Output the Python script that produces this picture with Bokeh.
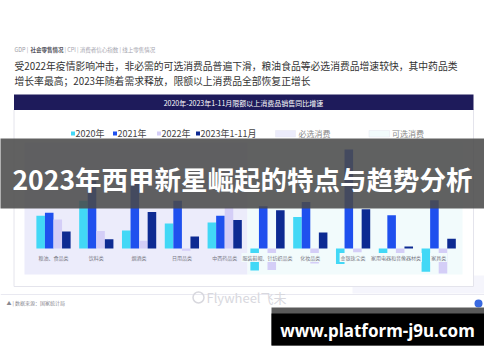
from bokeh.plotting import figure
from bokeh.models import Range1d, ColumnDataSource
from bokeh.transform import dodge
from bokeh.core.properties import value
from bokeh.embed import file_html
from bokeh.resources import INLINE

# ---------------- data ----------------
categories = ["粮油、食品类", "饮料类", "烟酒类", "日用品类", "中西药品类",
              "服装鞋帽、针纺织品类", "化妆品类", "金银珠宝类", "家用电器和音像器材类", "家具类"]
group_kind = ["必选消费"] * 5 + ["可选消费"] * 5
series_names = ["2020年", "2021年", "2022年", "2023年1-11月"]
y2020 = [9.9, 14.4, 5.4, 7.5, 7.8, -6.6, 9.5, -4.7, -3.8, -7.0]
y2021 = [10.8, 20.4, 20.2, 14.4, 9.9, 12.7, 14.0, 29.8, 10.0, 14.5]
y2022 = [8.7, 5.3, 2.3, -0.7, 12.4, -6.5, -4.5, -1.1, -3.2, -7.5]
y2023 = [5.1, 2.8, 11.0, 3.6, 8.6, 11.5, 4.8, 11.8, 0.6, 2.9]
kind_names = ["必选消费", "可选消费"]

title_big = "2023年西甲新星崛起的特点与趋势分析"
chart_title = "2020年-2023年1-11月限额以上消费品销售同比增速"
headline1 = "受2022年疫情影响冲击，非必需的可选消费品普遍下滑，粮油食品等必选消费品增速较快，其中药品类"
headline2 = "增长率最高；2023年随着需求释放，限额以上消费品全部恢复正增长"
source_txt = "▲ | 数据来源：国家统计局"
url_txt = "www.platform-j9u.com"

# ---------------- style / layout ----------------
CJK = value("Noto Sans CJK SC")
series_colors = ["#42d8f6", "#1f50ee", "#d4cef7", "#0d2a92"]
kind_colors = ["#ececfb", "#f2fbfc"]
W, H = 484, 346
X0, Y0 = 8, 8                      # page margin
ZERO_Y = 256.0                     # pixel row of the zero line
PX_PER_PCT = 3.32
GROUP0_X = 61.0
GROUP_STEP = 42.8

p = figure(width=W, height=H, x_range=Range1d(X0, X0 + W), y_range=Range1d(Y0 + H, Y0),
           output_backend="svg", toolbar_location=None, min_border=0,
           x_axis_location=None, y_axis_location=None,
           background_fill_color="white", border_fill_color="white", outline_line_color=None)
p.grid.visible = False

p.extra_x_ranges = {"cat": Range1d((X0 - GROUP0_X) / GROUP_STEP, (X0 + W - GROUP0_X) / GROUP_STEP)}
p.extra_y_ranges = {"val": Range1d((ZERO_Y - (Y0 + H)) / PX_PER_PCT, (ZERO_Y - Y0) / PX_PER_PCT)}

# page decorations
p.quad(left=[8], right=[492], top=[301.5], bottom=[302.5], fill_color="#e9e9f1", line_color=None)
p.quad(left=[360], right=[492], top=[283], bottom=[301], fill_color="#eeeefa", fill_alpha=0.6, line_color=None)
p.quad(left=[21.5], right=[481], top=[117], bottom=[294], fill_color="white", line_color="#e4e4ec", line_width=1)
p.quad(left=[21.5], right=[481], top=[102], bottom=[117.5], fill_color="#1e1b5b", line_color=None)
p.text(x=[251], y=[110], text=[chart_title], text_font=CJK, text_font_size="7px",
       text_color="white", text_align="center", text_baseline="middle")

# breadcrumb + headline
p.text(x=[22], y=[57], text=["GDP | "], text_font=CJK, text_font_size="5.5px",
       text_color="#9a9aa4", text_baseline="middle")
p.text(x=[38], y=[57], text=["社会零售情况"], text_font=CJK, text_font_size="5.5px",
       text_color="#555560", text_font_style="bold", text_baseline="middle")
p.text(x=[72], y=[57], text=[" | CPI | 消费者信心指数 | 线上零售情况"], text_font=CJK,
       text_font_size="5.5px", text_color="#a4a4ae", text_baseline="middle")
p.text(x=[22, 22], y=[73, 88], text=[headline1, headline2], text_font=CJK,
       text_font_size="9.8px", text_color="#333333", text_baseline="middle")

# shaded kind regions
p.quad(left=[32, 255], right=[255, 470], top=[150, 150], bottom=[282, 282],
       fill_color=kind_colors, line_color=None)

# legend
leg_sq_x = [80.5, 122.5, 166.5, 205.5]
p.scatter(x=leg_sq_x, y=[141] * 4, marker="square", size=4, fill_color=series_colors, line_color=None)
p.text(x=[x + 2.5 for x in leg_sq_x], y=[141] * 4, text=series_names, text_font=CJK,
       text_font_size="9px", text_color="#444444", text_baseline="middle")
p.quad(left=[283, 376.5], right=[303, 397], top=[138, 138], bottom=[144.5, 144.5],
       fill_color=kind_colors, line_color="#e6e6f0", line_width=0.5)
p.text(x=[306, 399.5], y=[141, 141], text=kind_names, text_font=CJK,
       text_font_size="8px", text_color="#888888", text_baseline="middle")

# bars
src = ColumnDataSource(dict(idx=list(range(len(categories))), cat=categories,
                            bg=[kind_colors[0] if k == "必选消费" else kind_colors[1] for k in group_kind],
                            s0=y2020, s1=y2021, s2=y2022, s3=y2023))
offsets = [-0.3, -0.1, 0.1, 0.3]
for k, col in enumerate(["s0", "s1", "s2", "s3"]):
    p.vbar(x=dodge("idx", offsets[k]), top=col, bottom=0, width=0.2, source=src,
           fill_color=series_colors[k], line_color=None, x_range_name="cat", y_range_name="val")

p.text(x="idx", y=0, text="cat", source=src, x_range_name="cat", y_range_name="val",
       y_offset=9, text_align="center", text_baseline="middle", text_font=CJK,
       text_font_size="5px", text_color="#7a7a86", background_fill_color="bg", padding=1)

# footer
p.text(x=[14], y=[310], text=[source_txt], text_font=CJK, text_font_size="5px",
       text_color="#888890", text_baseline="middle")
p.text(x=[214], y=[305], text=["Flywheel飞未"], text_font=CJK, text_font_size="13px",
       text_color="#d8d8de", text_baseline="middle")
p.scatter(x=[206], y=[305], marker="circle", size=11, fill_color=None, line_color="#d8d8de", line_width=1.5)
p.scatter(x=[486], y=[311], marker="circle", size=8, fill_color="#3a6ae0", line_color=None)

# overlay banner
p.quad(left=[6], right=[494], top=[146], bottom=[216], fill_color="#4a4a4a", fill_alpha=0.87, line_color=None)
p.text(x=[250], y=[186], text=[title_big], text_font=CJK, text_font_size="26.5px",
       text_font_style="bold", text_color="white", text_align="center", text_baseline="middle")

# url box
p.quad(left=[279], right=[492], top=[315], bottom=[353], fill_color="#5a5a5a", line_color=None)
p.quad(left=[279], right=[492], top=[321], bottom=[353], fill_color="black", line_color=None)
p.text(x=[385], y=[337.5], text=[url_txt], text_font=value("Noto Sans"), text_font_size="17px",
       text_font_style="bold", text_color="white", text_align="center", text_baseline="middle")

open("out.html", "w").write(file_html(p, INLINE))
